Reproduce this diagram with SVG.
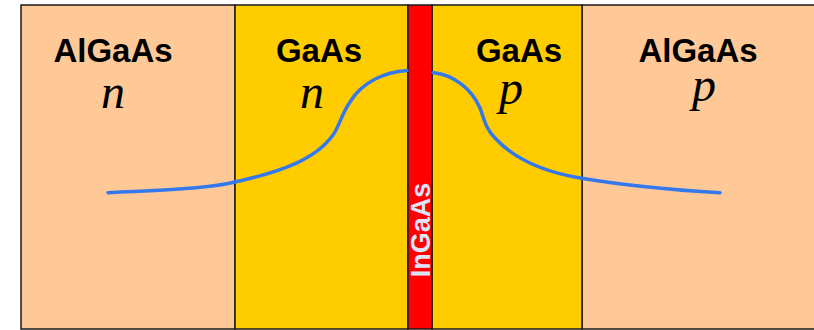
<svg xmlns="http://www.w3.org/2000/svg" width="814" height="330" viewBox="0 0 814 330">
<style>
.lbl{font-family:"Liberation Sans",Arial,sans-serif;font-weight:bold;font-size:33px;fill:#000;text-anchor:middle}
.it{font-family:"Liberation Serif","Times New Roman",serif;font-style:italic;font-size:48px;fill:#000;text-anchor:middle}
.lay{stroke:#1a1a1a;stroke-width:1.5}
.curve{fill:none;stroke:#3478ee;stroke-width:3.5;stroke-linecap:round}
</style>
<rect width="814" height="330" fill="#fff"/>
<g id="algaas-n">
<rect class="lay" x="21" y="5" width="214" height="324" fill="#fec997"/>
<text class="lbl" x="113" y="62">AlGaAs</text>
<text class="it" x="113" y="108">n</text>
</g>
<g id="algaas-p">
<rect class="lay" x="582" y="5" width="240" height="324" fill="#fec997"/>
<text class="lbl" x="698" y="62">AlGaAs</text>
<text class="it" x="704" y="101">p</text>
</g>
<g id="gaas-n">
<rect class="lay" x="235" y="5" width="173" height="324" fill="#ffcc00"/>
<text class="lbl" x="319" y="62">GaAs</text>
<text class="it" x="312" y="108">n</text>
</g>
<g id="gaas-p">
<rect class="lay" x="432" y="5" width="150" height="324" fill="#ffcc00"/>
<text class="lbl" x="519" y="62">GaAs</text>
<text class="it" x="511" y="104">p</text>
</g>
<g id="ingaas">
<rect class="lay" x="408" y="5" width="24" height="324" fill="#ff0000"/>
<text class="lbl" transform="translate(430,230) rotate(-90)" x="0" y="0" style="font-size:27px;fill:#dde4f8">InGaAs</text>
</g>
<g id="connectors">
<path class="curve" d="M108,192.7 C170,190 210,188 235,182 C280,172 315,160 333,135 C340,125 341,115 350,102 C362,82 385,72 407,70.5"/>
<path class="curve" d="M433,72.5 C455,75 472,90 480,108 C484,118 485,128 495,138 C515,160 545,172 580,178 C640,188 690,191 720,192.7"/>
</g>
</svg>
